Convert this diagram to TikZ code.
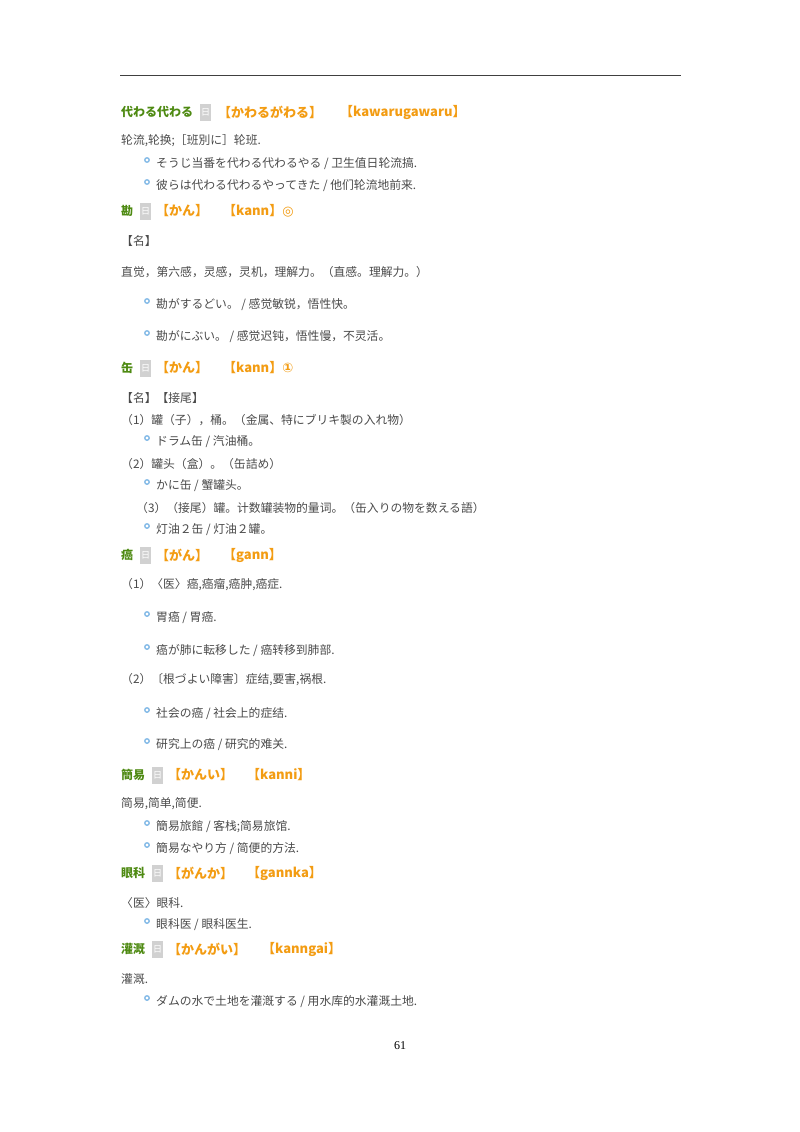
\documentclass[tikz,border=0pt]{standalone}
\usepackage{fontspec}
\setmainfont{Noto Sans CJK SC}
\newfontfamily\djvfont{DejaVu Sans}
\newfontfamily\serifnum{Liberation Serif}
\definecolor{hg}{HTML}{4E8A12}
\definecolor{ho}{HTML}{F39C12}
\definecolor{tx}{HTML}{4A4A4A}
\definecolor{bl}{HTML}{7FB8E6}
\begin{document}
\begin{tikzpicture}[x=1pt,y=-1pt,
  tline/.style={anchor=west,inner sep=0pt,text=tx,font=\fontsize{11.8}{12}\selectfont},
  hw/.style={anchor=west,inner sep=0pt,text=hg,font=\fontsize{12}{13}\bfseries\selectfont},
  kana/.style={anchor=west,inner sep=0pt,text=ho,font=\fontsize{13}{14}\bfseries\selectfont},
  icon/.style={anchor=west,fill=black!18,text=white,inner sep=0pt,minimum width=11,minimum height=17,font=\fontsize{9}{9}\selectfont},
  bul/.style={circle,draw=bl,line width=1.3pt,inner sep=0pt,minimum size=4.5}]
\useasboundingbox (0,0) rectangle (800,1132);
\fill[white] (0,0) rectangle (800,1132);
\coordinate (r1) at (120,75); \coordinate (r2) at (681,75);
\draw[line width=0.8pt,black!75] (r1) -- (r2);
% entry 1
\node[hw] (h1) at (121,112) {代わる代わる};
\node[icon] (i1) at (200,112) {日};
\node[kana] (k1) at (218,112) {【かわるがわる】};
\node[kana] (r1a) at (340,112) {【kawarugawaru】};
\node[tline] (t1) at (121,141) {轮流,轮换;［班別に］轮班.};
\node[bul] (b1) at (147,160) {};\node[tline] (e1) at (156,164) {そうじ当番を代わる代わるやる / 卫生值日轮流搞.};
\node[bul] (b2) at (147,182) {};\node[tline] (e2) at (156,186) {彼らは代わる代わるやってきた / 他们轮流地前来.};
% entry 2
\node[hw] (h2) at (121,211) {勘};
\node[icon] (i2) at (140,211) {日};
\node[kana] (k2) at (156,211) {【かん】};
\node[kana] (r2a) at (223,211) {【kann】{\djvfont ◎}};
\node[tline] (t2) at (121,241) {【名】};
\node[tline] (t3) at (121,272) {直觉，第六感，灵感，灵机，理解力。（直感。理解力。）};
\node[bul] (b3) at (147,301) {};\node[tline] (e3) at (156,305) {勘がするどい。 / 感觉敏锐，悟性快。};
\node[bul] (b4) at (147,333) {};\node[tline] (e4) at (156,337) {勘がにぶい。 / 感觉迟钝，悟性慢，不灵活。};
% entry 3
\node[hw] (h3) at (121,368) {缶};
\node[icon] (i3) at (140,368) {日};
\node[kana] (k3) at (156,368) {【かん】};
\node[kana] (r3a) at (223,368) {【kann】{\djvfont ①}};
\node[tline] (t4) at (121,398) {【名】【接尾】};
\node[tline] (t5) at (121,420) {（1）罐（子），桶。（金属、特にブリキ製の入れ物）};
\node[bul] (b5) at (147,438) {};\node[tline] (e5) at (156,442) {ドラム缶 / 汽油桶。};
\node[tline] (t6) at (121,464) {（2）罐头（盒）。（缶詰め）};
\node[bul] (b6) at (147,482) {};\node[tline] (e6) at (156,486) {かに缶 / 蟹罐头。};
\node[tline] (t7) at (136,508) {（3）（接尾）罐。计数罐装物的量词。（缶入りの物を数える語）};
\node[bul] (b7) at (147,526) {};\node[tline] (e7) at (156,530) {灯油２缶 / 灯油２罐。};
% entry 4
\node[hw] (h4) at (121,555) {癌};
\node[icon] (i4) at (140,555) {日};
\node[kana] (k4) at (156,555) {【がん】};
\node[kana] (r4a) at (223,555) {【gann】};
\node[tline] (t8) at (121,585) {（1）〈医〉癌,癌瘤,癌肿,癌症.};
\node[bul] (b8) at (147,614) {};\node[tline] (e8) at (156,618) {胃癌 / 胃癌.};
\node[bul] (b9) at (147,647) {};\node[tline] (e9) at (156,651) {癌が肺に転移した / 癌转移到肺部.};
\node[tline] (t9) at (121,680) {（2）〔根づよい障害〕症结,要害,祸根.};
\node[bul] (b10) at (147,710) {};\node[tline] (e10) at (156,714) {社会の癌 / 社会上的症结.};
\node[bul] (b11) at (147,741) {};\node[tline] (e11) at (156,745) {研究上の癌 / 研究的难关.};
% entry 5
\node[hw] (h5) at (121,775) {簡易};
\node[icon] (i5) at (152,775) {日};
\node[kana] (k5) at (168,775) {【かんい】};
\node[kana] (r5a) at (247,775) {【kanni】};
\node[tline] (t10) at (121,804) {简易,简单,简便.};
\node[bul] (b12) at (147,823) {};\node[tline] (e12) at (156,827) {簡易旅館 / 客栈;简易旅馆.};
\node[bul] (b13) at (147,845) {};\node[tline] (e13) at (156,849) {簡易なやり方 / 简便的方法.};
% entry 6
\node[hw] (h6) at (121,873) {眼科};
\node[icon] (i6) at (152,873) {日};
\node[kana] (k6) at (168,873) {【がんか】};
\node[kana] (r6a) at (247,873) {【gannka】};
\node[tline] (t11) at (121,903) {〈医〉眼科.};
\node[bul] (b14) at (147,921) {};\node[tline] (e14) at (156,925) {眼科医 / 眼科医生.};
% entry 7
\node[hw] (h7) at (121,949) {灌溉};
\node[icon] (i7) at (152,949) {日};
\node[kana] (k7) at (168,949) {【かんがい】};
\node[kana] (r7a) at (262,949) {【kanngai】};
\node[tline] (t12) at (121,979) {灌溉.};
\node[bul] (b15) at (147,998) {};\node[tline] (e15) at (156,1002) {ダムの水で土地を灌漑する / 用水库的水灌溉土地.};
\node[inner sep=0pt,font=\fontsize{12}{12}\selectfont\serifnum] (pg) at (400,1046) {61};
\end{tikzpicture}
\end{document}
